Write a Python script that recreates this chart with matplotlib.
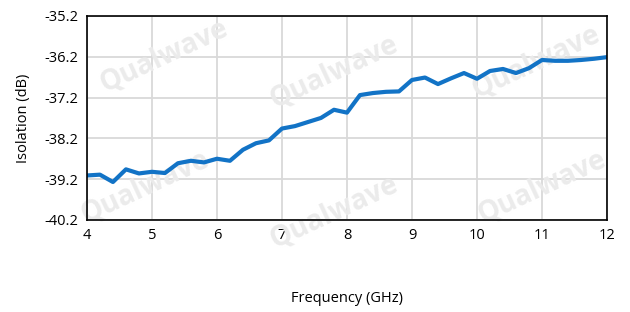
import matplotlib.pyplot as plt

freq_ghz = [4.0, 4.2, 4.4, 4.6, 4.8, 5.0, 5.2, 5.4, 5.6, 5.8, 6.0, 6.2, 6.4, 6.6, 6.8,
            7.0, 7.2, 7.4, 7.6, 7.8, 8.0, 8.2, 8.4, 8.6, 8.8, 9.0, 9.2, 9.4, 9.6, 9.8,
            10.0, 10.2, 10.4, 10.6, 10.8, 11.0, 11.2, 11.4, 11.6, 11.8, 12.0]
isolation_db = [-39.11, -39.09, -39.27, -38.96, -39.06, -39.02, -39.05, -38.81, -38.75,
                -38.79, -38.70, -38.75, -38.48, -38.32, -38.25, -37.96, -37.90, -37.80,
                -37.70, -37.50, -37.57, -37.14, -37.09, -37.06, -37.05, -36.77, -36.71,
                -36.87, -36.73, -36.60, -36.74, -36.55, -36.50, -36.60, -36.48, -36.28,
                -36.30, -36.30, -36.28, -36.25, -36.21]
x_ticks = [4, 5, 6, 7, 8, 9, 10, 11, 12]
y_ticks = [-40.2, -39.2, -38.2, -37.2, -36.2, -35.2]

plt.rcParams["font.family"] = ["Open Sans", "DejaVu Sans"]

fig = plt.figure(figsize=(6.3, 3.12), dpi=100)
ax = fig.add_axes([0.138, 0.295, 0.8255, 0.654])

# watermarks, behind the curve
for wx, wy in [(0.26, 0.82), (0.53, 0.77), (0.85, 0.80),
               (0.23, 0.40), (0.53, 0.32), (0.86, 0.40)]:
    ax.text(wx, wy, "Qualwave", transform=fig.transFigure, fontsize=20,
            fontweight="bold", color="#ebebeb", rotation=25, ha="center",
            va="center", zorder=1, clip_on=False)

ax.plot(freq_ghz, isolation_db, color="#1273c6", linewidth=3.0,
        solid_joinstyle="round", solid_capstyle="round", zorder=3)

ax.set_xlim(4, 12)
ax.set_ylim(-40.2, -35.2)
ax.set_xticks(x_ticks)
ax.set_yticks(y_ticks)
ax.set_yticklabels([f"{v:.1f}" for v in y_ticks])
ax.grid(True, color="#d9d9d9", linewidth=1.3, zorder=0)
ax.set_axisbelow(True)
ax.tick_params(length=0, labelsize=10.5, pad=6)
for s in ax.spines.values():
    s.set_color("black")
    s.set_linewidth(1.2)
    s.set_zorder(4)

ax.set_xlabel("Frequency (GHz)", fontsize=10.5, labelpad=34)
ax.set_ylabel("Isolation (dB)", fontsize=10.5, labelpad=10)

fig.savefig("out.png", dpi=100)
